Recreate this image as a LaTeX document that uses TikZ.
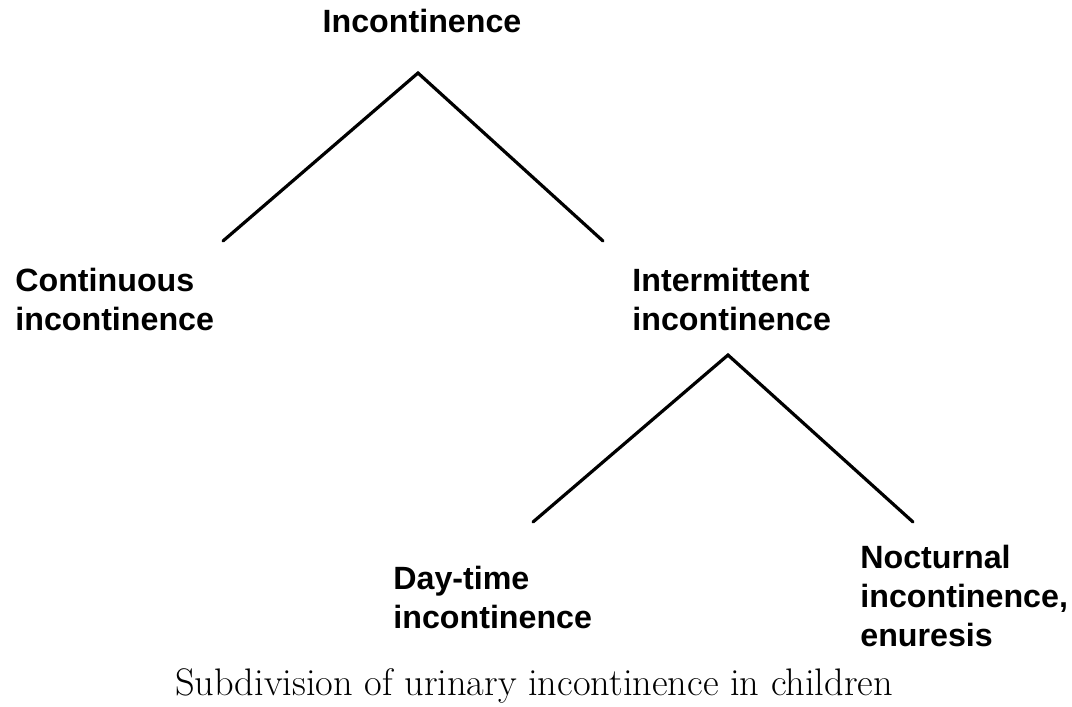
\documentclass[tikz,border=0pt]{standalone}
\usepackage{fontspec}
\newfontfamily\labelfont{Liberation Sans}
\usetikzlibrary{positioning}

\begin{document}
\begin{tikzpicture}[
    x=0.5pt, y=-0.5pt,
    lbl/.style={anchor=north west, inner sep=0pt, align=left, font=\labelfont\bfseries\fontsize{16.1}{19.5}\selectfont},
    branch/.style={line width=1.6pt, line cap=round}
]
    \useasboundingbox (0,0) rectangle (1072,707);

    % labels
    \node[lbl, anchor=north] (root) at (422,9) {Incontinence};
    \node[lbl] (cont) at (15,268) {Continuous\\incontinence};
    \node[lbl] (inter) at (632,268) {Intermittent\\incontinence};
    \node[lbl] (day) at (393,566) {Day-time\\incontinence};
    \node[lbl] (night) at (860,545) {Nocturnal\\incontinence,\\enuresis};

    % branch points
    \coordinate (top1) at (418,73);
    \coordinate (left1) at (223,241);
    \coordinate (right1) at (603,241);
    \coordinate (top2) at (728,355);
    \coordinate (left2) at (533,522);
    \coordinate (right2) at (913,522);

    \draw[branch] (left1) -- (top1) -- (right1);
    \draw[branch] (left2) -- (top2) -- (right2);

    \node[font=\fontsize{19.2}{22}\selectfont] (caption) at (534,686) {Subdivision of urinary incontinence in children};
\end{tikzpicture}
\end{document}
